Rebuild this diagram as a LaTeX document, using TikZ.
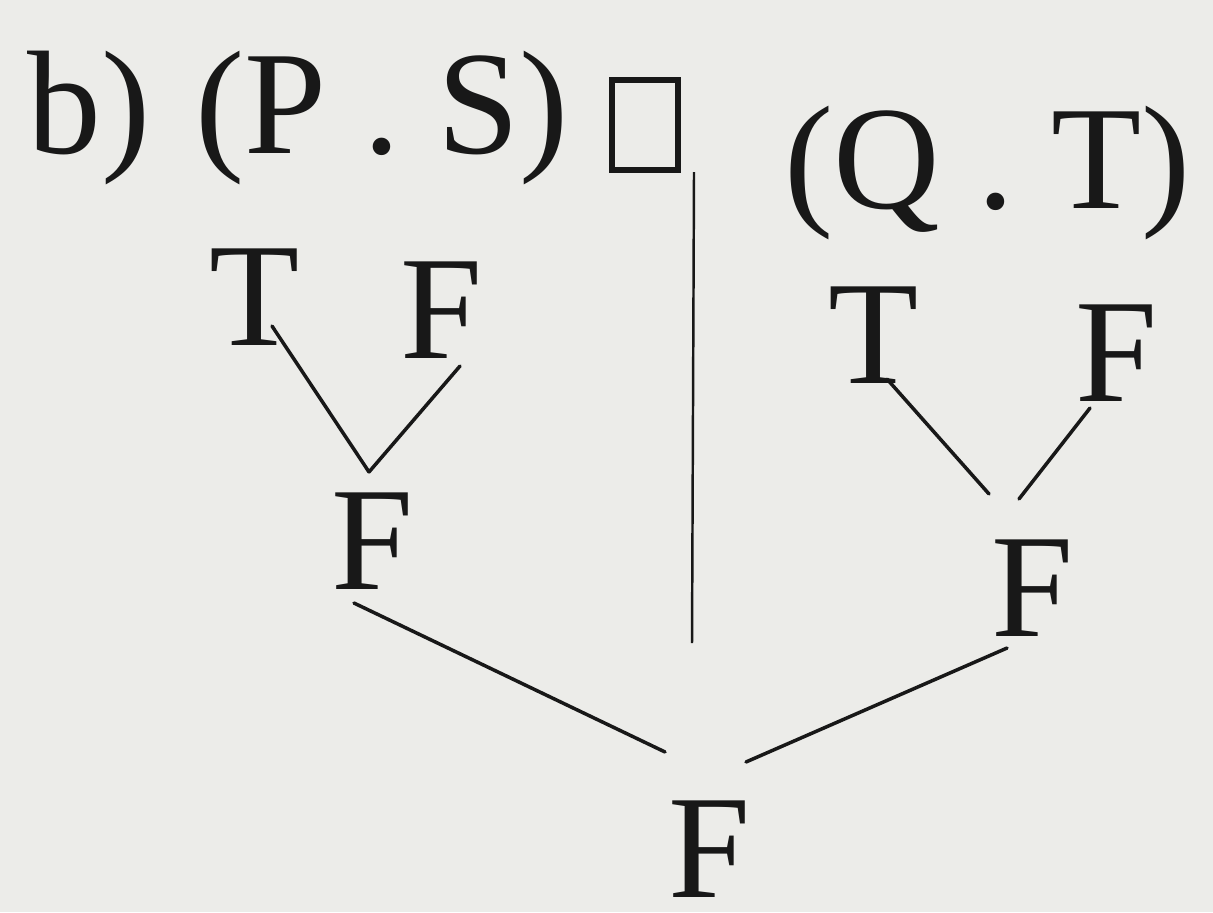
\documentclass[tikz,border=0pt]{standalone}
\usepackage{fontspec}
\setmainfont{Liberation Serif}
\usepackage{tikz}
\usetikzlibrary{positioning}

\definecolor{paper}{RGB}{236,236,233}
\definecolor{ink}{RGB}{24,24,24}

\tikzset{
	tv/.style={inner sep=0pt, text=ink, font=\fontsize{42}{50}\selectfont},
	hd/.style={inner sep=0pt, text=ink, font=\fontsize{42}{50}\selectfont},
	branch/.style={draw=ink, line width=1pt, line cap=round},
}

\begin{document}
\begin{tikzpicture}

	% paper, fixes the size of the picture
	\fill[paper] (0,0) rectangle (12.13,-9.12);
	\useasboundingbox (0,0) rectangle (12.13,-9.12);

	% heading
	\node[hd, anchor=base west] (LBL) at (0.27,-1.53) {b)};
	\node[hd] (LHEAD) [right = 0.43cm of LBL] {(P . S)};
	\node[draw=ink,
	rectangle,
	line width=1.8pt,
	minimum width=0.66cm,
	minimum height=0.9cm] (BOX) at (6.45,-1.25) {};
	\node[hd, anchor=base west] (RHEAD) at (7.84,-2.08) {(Q . T)};

	% left part
	\node[tv] (LT) at (2.55,-2.97) {T};
	\node[tv] (LF) at (4.42,-3.10) {F};
	\node[tv] (LMF) at (3.73,-5.41) {F};

	% right part
	\node[tv] (RT) at (8.74,-3.35) {T};
	\node[tv] (RF) at (11.17,-3.53) {F};
	\node[tv] (RMF) at (10.33,-5.88) {F};

	% result
	\node[tv] (BOTF) at (7.10,-8.49) {F};

	% separator
	\coordinate (SEPTOP) at (6.94,-1.72);
	\coordinate (SEPBOT) at (6.92,-6.43);
	\draw[draw=ink, line width=0.7pt] (SEPTOP) -- (SEPBOT);

	\draw[branch] ([shift={(0.17,0.20)}]LT.south) -- ([shift={(-0.04,0.20)}]LMF.north);
	\draw[branch] ([shift={(0.18,-0.07)}]LF.south) -- ([shift={(-0.04,0.20)}]LMF.north);
	\draw[branch] ([shift={(0.13,0.05)}]RT.south) -- ([shift={(-0.44,0.45)}]RMF.north);
	\draw[branch] ([shift={(-0.27,-0.06)}]RF.south) -- ([shift={(-0.14,0.40)}]RMF.north);
	\draw[branch] ([shift={(-0.19,-0.13)}]LMF.south) -- ([shift={(-0.45,0.48)}]BOTF.north);
	\draw[branch] ([shift={(-0.26,-0.11)}]RMF.south) -- ([shift={(0.36,0.38)}]BOTF.north);

\end{tikzpicture}
\end{document}
